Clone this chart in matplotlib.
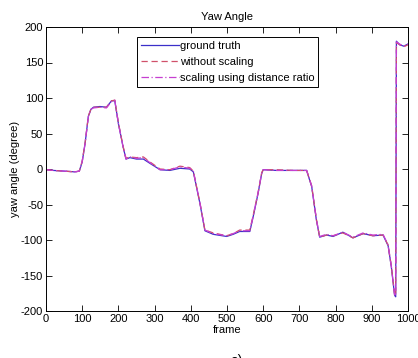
import matplotlib.pyplot as plt

# key points (frame, degrees)
frames = [0, 20, 50, 80, 92, 100, 108, 117, 124, 131, 149, 167, 181, 190, 200, 213, 221,
          232, 250, 269, 287, 315, 342, 370, 397, 407, 425, 439, 462, 499, 517, 535,
          563, 572, 586, 596, 600, 637, 683, 720, 734, 747, 756, 775, 793, 820, 848, 876,
          903, 931, 945, 954, 963, 966, 968, 977, 988, 1000]

ground_truth = [-1, -2, -3, -4, -3, 10, 36, 74, 84, 87, 88, 87, 96, 96, 64, 31, 14,
                16, 14, 14, 8, -1, -2, 1, 0, -4, -48, -87, -92, -95, -92, -88,
                -88, -68, -34, -6, -1, -2, -2, -2, -25, -72, -96, -93, -95, -89, -97, -91,
                -94, -93, -108, -138, -178, -180, 180, 175, 173, 176]

without_scaling = [-1, -2, -3, -4, -3, 11, 37, 75, 84, 87, 87, 87, 96, 97, 65, 32, 15,
                   17, 16, 17, 10, 0, -1, 4, 2, -3, -47, -86, -90, -94, -91, -86,
                   -86, -66, -33, -5, -1, -1, -2, -2, -24, -71, -96, -93, -94, -90, -97, -91,
                   -94, -93, -107, -137, -177, -179, 178, 175, 172, 175]

scaling_ratio = [-1, -2, -3, -4, -3, 11, 36, 74, 84, 86, 87, 86, 95, 97, 64, 31, 14,
                 17, 15, 16, 9, -1, -1, 3, 1, -3, -47, -86, -91, -94, -91, -87,
                 -87, -67, -33, -5, -1, -2, -2, -2, -24, -71, -95, -92, -94, -89, -96, -90,
                 -93, -92, -107, -137, -177, -179, 179, 176, 173, 176]

x_ticks = list(range(0, 1001, 100))
y_ticks = list(range(-200, 201, 50))

plt.rcParams['font.family'] = ['Liberation Sans', 'DejaVu Sans']
plt.rcParams['axes.unicode_minus'] = False

fig = plt.figure(figsize=(4.18, 3.58), dpi=100)
ax = fig.add_axes([46 / 418, 1 - 311 / 358, 362 / 418, 284 / 358])

ax.plot(frames, ground_truth, color='#3b2fc9', lw=0.9, label='ground truth')
ax.plot(frames, without_scaling, color='#d0506a', lw=0.9, ls=(0, (5, 3)),
        label='without scaling')
ax.plot(frames, scaling_ratio, color='#c63fd0', lw=0.9, ls=(0, (6, 2, 1, 2)),
        label='scaling using distance ratio')

ax.set_xlim(0, 1000)
ax.set_ylim(-200, 200)
ax.set_xticks(x_ticks)
ax.set_yticks(y_ticks)
ax.tick_params(direction='in', top=True, right=True, labelsize=8, length=4,
               width=0.6, pad=2)
for s in ax.spines.values():
    s.set_linewidth(0.7)

ax.set_title('Yaw Angle', fontsize=8, pad=5)
ax.set_xlabel('frame', fontsize=8, labelpad=1)
ax.set_ylabel('yaw angle (degree)', fontsize=8, labelpad=1)

leg = ax.legend(loc='upper left', bbox_to_anchor=(0.251, 0.965), borderaxespad=0,
                fontsize=8, fancybox=False, framealpha=1, edgecolor='black',
                handlelength=3.4, handletextpad=0.1, borderpad=0.35, labelspacing=0.55)
leg.get_frame().set_linewidth(0.7)

fig.text(0.567, 0.011, 'a)', ha='center', va='top', fontsize=10)

fig.savefig('out.png', dpi=100)
